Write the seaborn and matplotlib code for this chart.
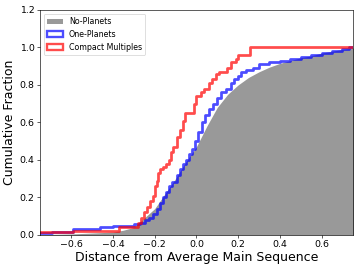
import numpy as np
import pandas as pd
import seaborn as sns
import matplotlib
matplotlib.use("Agg")
import matplotlib.pyplot as plt
from matplotlib.patches import Patch

# ----------------------------------------------------------------------
# Data (cumulative fraction vs. distance)
# ----------------------------------------------------------------------
# No-Planets: smooth cumulative curve (x, fraction)
none_x = [-0.80, -0.60, -0.50, -0.40, -0.35, -0.30, -0.25, -0.20, -0.15, -0.10,
          -0.05, 0.00, 0.05, 0.10, 0.15, 0.20, 0.25, 0.30, 0.35, 0.40,
          0.45, 0.50, 0.55, 0.60, 0.65, 0.70, 0.75, 0.80]
none_y = [0.000, 0.005, 0.010, 0.015, 0.025, 0.040, 0.090, 0.140, 0.220, 0.300,
          0.390, 0.470, 0.580, 0.680, 0.750, 0.800, 0.840, 0.870, 0.895, 0.915,
          0.930, 0.945, 0.955, 0.970, 0.980, 0.990, 0.997, 1.000]

# One-Planets: step starts (x) and the cumulative level from that x on
one_x = [-0.80, -0.69, -0.59, -0.46, -0.40, -0.30, -0.27, -0.245, -0.225, -0.21,
         -0.19, -0.175, -0.16, -0.145, -0.13, -0.115, -0.095, -0.08, -0.065, -0.05,
         -0.035, -0.02, -0.005, 0.01, 0.025, 0.04, 0.06, 0.08, 0.10, 0.12,
         0.14, 0.165, 0.18, 0.20, 0.215, 0.24, 0.27, 0.30, 0.35, 0.40,
         0.45, 0.50, 0.55, 0.60, 0.65, 0.70, 0.73]
one_y = [0.010, 0.015, 0.030, 0.040, 0.050, 0.060, 0.065, 0.080, 0.090, 0.110,
         0.140, 0.170, 0.200, 0.230, 0.260, 0.280, 0.320, 0.350, 0.380, 0.400,
         0.430, 0.460, 0.500, 0.550, 0.600, 0.640, 0.670, 0.700, 0.730, 0.760,
         0.780, 0.810, 0.830, 0.850, 0.870, 0.880, 0.890, 0.910, 0.920, 0.930,
         0.940, 0.950, 0.960, 0.970, 0.980, 0.990, 1.000]

# Compact Multiples
multi_x = [-0.80, -0.59, -0.37, -0.28, -0.265, -0.25, -0.235, -0.222, -0.21, -0.20,
           -0.19, -0.182, -0.175, -0.16, -0.145, -0.13, -0.12, -0.11, -0.095, -0.08,
           -0.065, -0.055, -0.01, 0.00, 0.02, 0.035, 0.06, 0.075, 0.095, 0.11,
           0.145, 0.165, 0.19, 0.20, 0.255]
multi_y = [0.015, 0.020, 0.040, 0.065, 0.090, 0.120, 0.150, 0.180, 0.210, 0.260,
           0.290, 0.330, 0.350, 0.360, 0.380, 0.400, 0.440, 0.470, 0.520, 0.560,
           0.610, 0.650, 0.700, 0.740, 0.760, 0.780, 0.810, 0.830, 0.860, 0.870,
           0.890, 0.920, 0.940, 0.960, 1.000]

x_end = 0.80


def step_hist(ax, xs, ys, color):
    """Draw a cumulative step curve as a weighted cumulative histogram."""
    edges = list(xs) + [x_end]
    df = pd.DataFrame({"x": xs, "w": np.diff(np.concatenate([[0.0], ys]))})
    sns.histplot(data=df, x="x", weights="w", bins=edges, cumulative=True,
                 element="step", fill=False, color=color, alpha=0.7,
                 linewidth=3.5, ax=ax)


fig = plt.figure(figsize=(6.4, 4.8), dpi=56.25)
ax = fig.add_axes([0.111, 0.13, 0.869, 0.833])

ax.fill_between(none_x, 0, none_y, color="#999999", linewidth=0)
step_hist(ax, one_x, one_y, "blue")
step_hist(ax, multi_x, multi_y, "red")

ax.set_xlim(-0.75, 0.75)
ax.set_ylim(0, 1.2)
ax.set_xticks([-0.6, -0.4, -0.2, 0.0, 0.2, 0.4, 0.6])
ax.set_yticks([0.0, 0.2, 0.4, 0.6, 0.8, 1.0, 1.2])
ax.tick_params(labelsize=12)
ax.set_xlabel("Distance from Average Main Sequence", fontsize=16, labelpad=2)
ax.set_ylabel("Cumulative Fraction", fontsize=16)

handles = [Patch(facecolor="#999999", edgecolor="none"),
           Patch(facecolor="none", edgecolor="blue", alpha=0.7, linewidth=3),
           Patch(facecolor="none", edgecolor="red", alpha=0.7, linewidth=3)]
ax.legend(handles, ["No-Planets", "One-Planets", "Compact Multiples"],
          loc="upper left", fontsize=10)

fig.savefig("out.png", dpi=56.25)
